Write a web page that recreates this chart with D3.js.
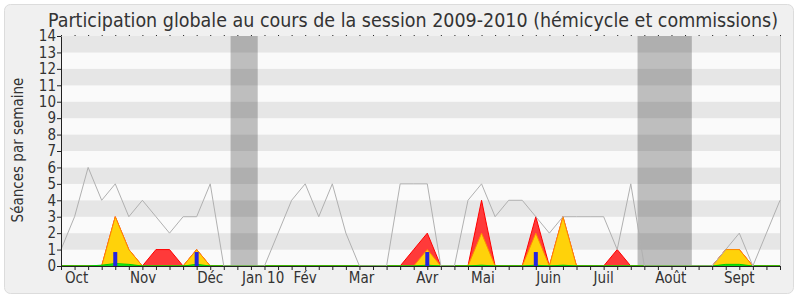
<!DOCTYPE html>
<html>
<head>
<meta charset="utf-8">
<script src="https://cdn.jsdelivr.net/npm/d3@7"></script>
<style>
  body { margin: 0; background: #ffffff; }
  text { font-family: "DejaVu Sans Condensed", "DejaVu Sans", sans-serif; font-stretch: condensed; fill: #333; }
</style>
</head>
<body>
<div id="chart"></div>
<script>
// one point per week, index 0..53
var totalSeances = [1,3,6,4,5,3,4,3,2,3,3,5,0,0,0,0,2,4,5,3,5,2,0,0,0,5,5,5,0,0,4,5,3,4,4,3,2,3,3,3,3,1,5,0,0,0,0,0,0,1,2,0,2,4];
var presences    = [0,0,0,0,3,1,0,1,1,0,1,0,0,0,0,0,0,0,0,0,0,0,0,0,0,0,1,2,0,0,0,4,0,0,0,3,0,3,0,0,0,1,0,0,0,0,0,0,0,1,1,0,0,0];
var participations=[0,0,0,0,3,1,0,0,0,0,1,0,0,0,0,0,0,0,0,0,0,0,0,0,0,0,0,1,0,0,0,2,0,0,0,2,0,3,0,0,0,0,0,0,0,0,0,0,0,1,1,0,0,0];
var interventions= [0,0,0,0.05,0.15,0.1,0,0,0,0,0.1,0,0,0,0,0,0,0,0,0,0,0,0,0,0,0,0,0.05,0,0,0,0.05,0,0,0,0.05,0,0.05,0,0,0,0,0,0,0,0,0,0,0,0.1,0.1,0,0,0];
var questions    = [0,0,0,0,0.85,0,0,0,0,0,0.85,0,0,0,0,0,0,0,0,0,0,0,0,0,0,0,0,0.85,0,0,0,0,0,0,0,0.85,0,0,0,0,0,0,0,0,0,0,0,0,0,0,0,0,0,0];
var vacances = [[12.5, 14.5], [42.5, 46.5]];
var mois = ["Oct","Nov","Déc","Jan 10","Fév","Mar","Avr","Mai","Juin","Juil","Août","Sept"];
var moisPos = [1.15, 6.05, 11, 14.9, 18, 22.15, 27, 31.1, 35.95, 40, 44.95, 50];
var yTicks = d3.range(0, 15);

var width = 800, height = 300;
var mLeft = 61, mRight = 780, mTop = 36, mBottom = 266;

var svg = d3.select('#chart').append('svg')
  .attr('width', width).attr('height', height);

svg.append('rect')
  .attr('x', 4.5).attr('y', 4.5).attr('width', 789).attr('height', 289)
  .attr('rx', 6).attr('fill', '#f0f0f0').attr('stroke', '#dcdcdc');

var x = d3.scaleLinear().domain([0, totalSeances.length - 1]).range([mLeft, mRight]);
var y = d3.scaleLinear().domain([0, 14]).range([mBottom, mTop]);

// stripes
svg.selectAll('.stripe')
  .data(d3.range(0, 14))
  .enter().append('rect')
    .attr('x', mLeft).attr('width', mRight - mLeft)
    .attr('y', function(d) { return y(d + 1); })
    .attr('height', function(d) { return y(d) - y(d + 1); })
    .attr('fill', function(d) { return d % 2 ? '#e6e6e6' : '#fafafa'; });

// holidays
svg.selectAll('.vac')
  .data(vacances)
  .enter().append('rect')
    .attr('x', function(d) { return x(d[0]); })
    .attr('width', function(d) { return x(d[1]) - x(d[0]); })
    .attr('y', mTop).attr('height', mBottom - mTop)
    .attr('fill', '#000').attr('fill-opacity', 0.24);

svg.append('line')
  .attr('x1', mRight + 0.5).attr('x2', mRight + 0.5).attr('y1', mTop).attr('y2', mBottom)
  .attr('stroke', '#cccccc');

var idx = d3.range(totalSeances.length);

function area(vals) {
  return d3.area()
    .x(function(i) { return x(i); })
    .y0(y(0))
    .y1(function(i) { return y(vals[i]); })(idx);
}

svg.append('path').attr('d', area(presences))
  .attr('fill', '#ff3a3a').attr('stroke', '#ff0000').attr('stroke-width', 1);
svg.append('path').attr('d', area(participations))
  .attr('fill', '#ffd20a').attr('stroke', '#ff8c00').attr('stroke-width', 1);
svg.append('path').attr('d', area(interventions))
  .attr('fill', '#22ee22').attr('stroke', '#00cc00').attr('stroke-width', 1);

svg.selectAll('.q')
  .data(idx.filter(function(i) { return questions[i] > 0; }))
  .enter().append('rect')
    .attr('x', function(i) { return x(i) - 2; })
    .attr('width', 4)
    .attr('y', function(i) { return y(questions[i]); })
    .attr('height', function(i) { return y(0) - y(questions[i]); })
    .attr('fill', '#2424e0');

svg.append('path')
  .attr('d', d3.line().x(function(i) { return x(i); }).y(function(i) { return y(totalSeances[i]); })(idx))
  .attr('fill', 'none').attr('stroke', '#b0b0b0').attr('stroke-width', 1);

// axes
var yAxis = svg.append('g')
  .attr('transform', 'translate(' + mLeft + ',0)')
  .call(d3.axisLeft(y).tickValues(yTicks).tickSize(4).tickSizeOuter(0).tickPadding(1));
yAxis.selectAll('text').style('font-size', '15px');

var xAxis = svg.append('g')
  .attr('transform', 'translate(0,' + mBottom + ')')
  .call(d3.axisBottom(x).tickValues(idx).tickSize(4).tickSizeOuter(0).tickFormat(''));

svg.append('g')
  .attr('transform', 'translate(0,' + mTop + ')')
  .call(d3.axisTop(x).tickValues(idx).tickSize(1).tickSizeOuter(0).tickFormat(''))
  .select('.domain').remove();

svg.selectAll('.domain, .tick line').attr('stroke', '#222');

svg.selectAll('.mois')
  .data(mois)
  .enter().append('text')
    .attr('x', function(d, i) { return x(moisPos[i]); })
    .attr('y', 283)
    .attr('text-anchor', 'middle')
    .style('font-size', '15px')
    .text(function(d) { return d; });

svg.append('text')
  .attr('transform', 'translate(23,150) rotate(-90)')
  .attr('text-anchor', 'middle')
  .style('font-size', '15px')
  .text('Séances par semaine');

svg.append('text')
  .attr('x', 413).attr('y', 27)
  .attr('text-anchor', 'middle')
  .attr('textLength', 730).attr('lengthAdjust', 'spacingAndGlyphs')
  .style('font-size', '19px')
  .text('Participation globale au cours de la session 2009-2010 (hémicycle et commissions)');
</script>
</body>
</html>
